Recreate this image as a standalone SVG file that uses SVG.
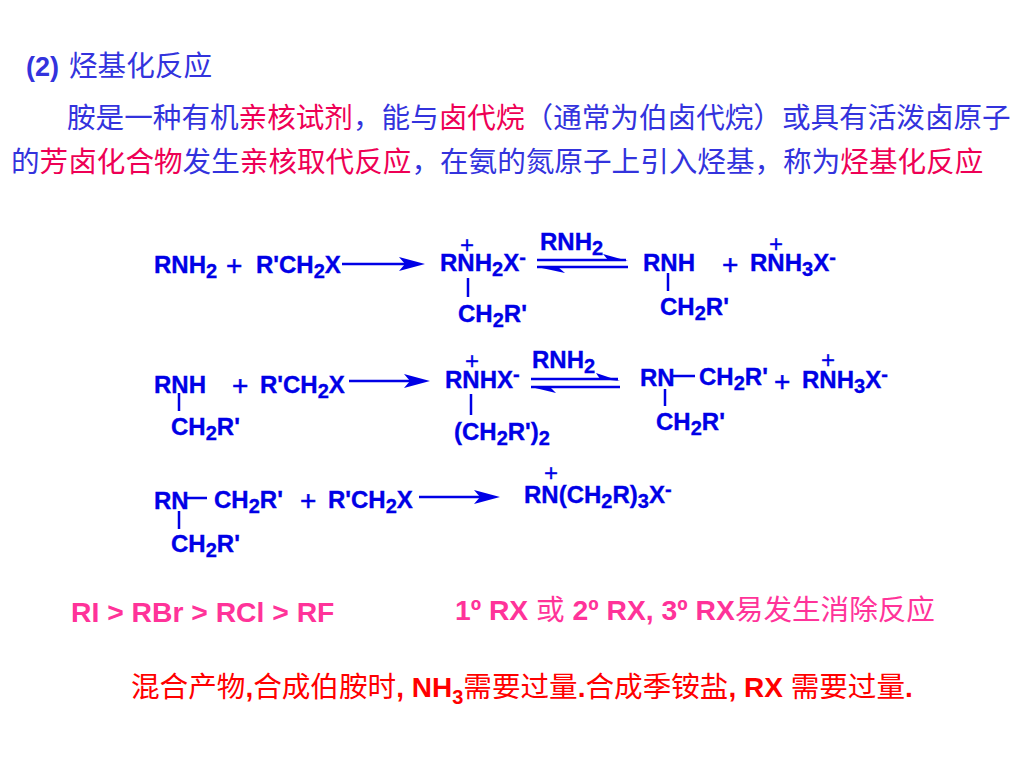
<svg xmlns="http://www.w3.org/2000/svg" width="1024" height="768" viewBox="0 0 1024 768">
<style>
text{font-family:"Liberation Sans","Noto Sans CJK SC",sans-serif}
.f{font-size:24px;font-weight:700;fill:#0000e6;stroke:#0000e6;stroke-width:.35px}
.s{font-size:20px}
.o{font-size:28px;font-weight:400;fill:#0000e6;stroke:#0000e6;stroke-width:.5px}
.u{font-size:24px;font-weight:400;fill:#0000e6;stroke:#0000e6;stroke-width:.3px}
.c{font-size:28.6px;fill:#3333dd}
.p{fill:#ee0055}
.m{font-size:28.6px;fill:#ff3399}
.mb{font-weight:700;font-size:28.3px}
.r{font-size:28.6px;fill:#f00}
.b{font-weight:700;font-size:28px}
.l{stroke:#0000e6;stroke-width:2.5;fill:none}
.h{fill:#0000e6;stroke:none}
</style>
<g id="intro">
<text class="c" x="26" y="76" font-weight="700" style="font-size:27px">(2)</text>
<text class="c" x="69" y="76">烃基化反应</text>
<text class="c" x="67" y="128">胺是一种有机<tspan class="p">亲核试剂</tspan>，能与<tspan class="p">卤代烷</tspan>（通常为伯卤代烷）或具有活泼卤原子</text>
<text class="c" x="11" y="172">的<tspan class="p">芳卤化合物</tspan>发生<tspan class="p">亲核取代反应</tspan>，在氨的氮原子上引入烃基，称为<tspan class="p">烃基化反应</tspan></text>
</g>
<g id="connectors">
<path class="l" d="M342 264H405"/><path class="h" d="M425 264L399 257L405 264L399 271Z"/>
<path class="l" d="M537 260H626"/><path class="h" d="M628 261L603 254L608 260Z"/>
<path class="l" d="M537 267H628"/><path class="h" d="M537 267L565 273L558 267Z"/>
<path class="l" d="M468 278V297"/><path class="l" d="M668 273V291"/>
<path class="l" d="M349 381H410"/><path class="h" d="M430 381L404 374L410 381L404 388Z"/>
<path class="l" d="M531 379H618"/><path class="h" d="M620 381L596 373L600 379Z"/>
<path class="l" d="M531 387H620"/><path class="h" d="M531 387L556 393L550 387Z"/>
<path class="l" d="M471 394V415"/>
<path class="l" d="M673 376H695"/><path class="l" d="M665 389V406"/>
<path class="l" d="M179 393V411"/>
<path class="l" d="M419 497H480"/><path class="h" d="M500 497L474 490L480 497L474 504Z"/>
<path class="l" d="M187 498H207"/><path class="l" d="M179 511V529"/>
</g>
<g id="row1">
<text class="f" x="154" y="273">RNH<tspan class="s" dy="5">2</tspan></text>
<text class="o" x="226" y="275">+</text>
<text class="f" x="256" y="273">R'CH<tspan class="s" dy="5">2</tspan><tspan dy="-5">X</tspan></text>
<text class="u" x="460" y="253">+</text>
<text class="f" x="440" y="271">RNH<tspan class="s" dy="5">2</tspan><tspan dy="-5">X</tspan><tspan class="s" dy="-7">-</tspan></text>
<text class="f" x="458" y="322">CH<tspan class="s" dy="5">2</tspan><tspan dy="-5">R'</tspan></text>
<text class="f" x="540" y="250">RNH<tspan class="s" dy="5">2</tspan></text>
<text class="f" x="643" y="271">RNH</text>
<text class="o" x="722" y="274">+</text>
<text class="u" x="769" y="252">+</text>
<text class="f" x="750" y="271">RNH<tspan class="s" dy="5">3</tspan><tspan dy="-5">X</tspan><tspan class="s" dy="-7">-</tspan></text>
<text class="f" x="660" y="315">CH<tspan class="s" dy="5">2</tspan><tspan dy="-5">R'</tspan></text>
</g>
<g id="row2">
<text class="f" x="154" y="393">RNH</text>
<text class="o" x="232" y="395">+</text>
<text class="f" x="260" y="393">R'CH<tspan class="s" dy="5">2</tspan><tspan dy="-5">X</tspan></text>
<text class="f" x="171" y="435">CH<tspan class="s" dy="5">2</tspan><tspan dy="-5">R'</tspan></text>
<text class="u" x="465" y="369">+</text>
<text class="f" x="445" y="388">RNHX<tspan class="s" dy="-7">-</tspan></text>
<text class="f" x="454" y="440">(CH<tspan class="s" dy="5">2</tspan><tspan dy="-5">R')</tspan><tspan class="s" dy="5">2</tspan></text>
<text class="f" x="532" y="368">RNH<tspan class="s" dy="5">2</tspan></text>
<text class="f" x="640" y="386">RN</text>
<text class="f" x="699" y="385">CH<tspan class="s" dy="5">2</tspan><tspan dy="-5">R'</tspan></text>
<text class="o" x="774" y="391">+</text>
<text class="u" x="821" y="368">+</text>
<text class="f" x="802" y="388">RNH<tspan class="s" dy="5">3</tspan><tspan dy="-5">X</tspan><tspan class="s" dy="-7">-</tspan></text>
<text class="f" x="656" y="430">CH<tspan class="s" dy="5">2</tspan><tspan dy="-5">R'</tspan></text>
</g>
<g id="row3">
<text class="f" x="154" y="509">RN</text>
<text class="f" x="214" y="508">CH<tspan class="s" dy="5">2</tspan><tspan dy="-5">R'</tspan></text>
<text class="o" x="300" y="510">+</text>
<text class="f" x="328" y="508">R'CH<tspan class="s" dy="5">2</tspan><tspan dy="-5">X</tspan></text>
<text class="f" x="171" y="552">CH<tspan class="s" dy="5">2</tspan><tspan dy="-5">R'</tspan></text>
<text class="u" x="544" y="481">+</text>
<text class="f" x="524" y="503">RN(CH<tspan class="s" dy="5">2</tspan><tspan dy="-5">R)</tspan><tspan class="s" dy="5">3</tspan><tspan dy="-5">X</tspan><tspan class="s" dy="-7">-</tspan></text>
</g>
<g id="notes">
<text class="m mb" x="71" y="622">RI &gt; RBr &gt; RCl &gt; RF</text>
<text class="m" x="455" y="620"><tspan class="mb">1º RX </tspan>或<tspan class="mb"> 2º RX, 3º RX</tspan>易发生消除反应</text>
<text class="r" x="131" y="697">混合产物<tspan class="b">,</tspan>合成伯胺时<tspan class="b">, NH</tspan><tspan class="b" style="font-size:20px" dy="7">3</tspan><tspan dy="-7">需要过量</tspan><tspan class="b">.</tspan>合成季铵盐<tspan class="b">, RX </tspan>需要过量<tspan class="b">.</tspan></text>
</g>
</svg>
